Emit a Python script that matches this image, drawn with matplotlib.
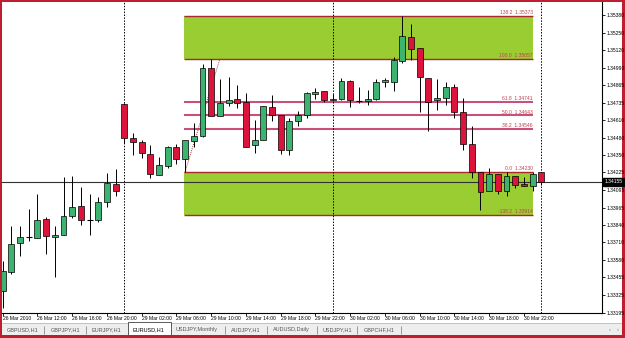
import matplotlib
matplotlib.use('Agg')
import matplotlib.pyplot as plt
from matplotlib.patches import Rectangle
from matplotlib.transforms import blended_transform_factory

# ---------------- data ----------------
opens = [1.33351, 1.33491, 1.33706, 1.33752, 1.33743, 1.33882, 1.33750, 1.33767, 1.33906, 1.33977,
         1.33877, 1.33877, 1.34004, 1.34139, 1.34727, 1.34480, 1.34447, 1.34359, 1.34205, 1.34273,
         1.34412, 1.34322, 1.34458, 1.34493, 1.34989, 1.34636, 1.34737, 1.34760, 1.34740, 1.34423,
         1.34464, 1.34703, 1.34643, 1.34387, 1.34603, 1.34643, 1.34799, 1.34821, 1.34755, 1.34762,
         1.34898, 1.34751, 1.34746, 1.34762, 1.34885, 1.34891, 1.35044, 1.35217, 1.35136, 1.34918,
         1.34752, 1.34769, 1.34850, 1.34667, 1.34432, 1.34224, 1.34090, 1.34212, 1.34090, 1.34200,
         1.34141, 1.34121, 1.34230]
highs = [1.33571, 1.33828, 1.33828, 1.33955, 1.34068, 1.33897, 1.33828, 1.34187, 1.34200, 1.34119,
         1.34065, 1.34043, 1.34222, 1.34251, 1.34737, 1.34513, 1.34464, 1.34427, 1.34334, 1.34420,
         1.34432, 1.34464, 1.34588, 1.35021, 1.35057, 1.34909, 1.34923, 1.34867, 1.34810, 1.34610,
         1.34713, 1.34790, 1.34647, 1.34623, 1.34676, 1.34813, 1.34845, 1.34823, 1.34801, 1.34920,
         1.34903, 1.34852, 1.34830, 1.34911, 1.34918, 1.35072, 1.35373, 1.35314, 1.35136, 1.34918,
         1.34911, 1.34891, 1.34874, 1.34769, 1.34568, 1.34224, 1.34256, 1.34212, 1.34224, 1.34200,
         1.34187, 1.34224, 1.34230]
lows = [1.33232, 1.33481, 1.33608, 1.33723, 1.33743, 1.33625, 1.33457, 1.33767, 1.33889, 1.33840,
        1.33767, 1.33857, 1.33970, 1.34048, 1.34439, 1.34351, 1.34329, 1.34183, 1.34205, 1.34256,
        1.34285, 1.34230, 1.34414, 1.34485, 1.34636, 1.34636, 1.34708, 1.34696, 1.34414, 1.34370,
        1.34460, 1.34603, 1.34359, 1.34354, 1.34566, 1.34623, 1.34760, 1.34744, 1.34749, 1.34757,
        1.34703, 1.34737, 1.34720, 1.34757, 1.34854, 1.34821, 1.35028, 1.35047, 1.34669, 1.34530,
        1.34683, 1.34720, 1.34623, 1.34388, 1.34185, 1.33945, 1.34086, 1.34065, 1.34053, 1.34109,
        1.34121, 1.34084, 1.34134]
closes = [1.33498, 1.33699, 1.33750, 1.33752, 1.33877, 1.33754, 1.33767, 1.33906, 1.33970, 1.33877,
          1.33877, 1.34004, 1.34146, 1.34084, 1.34476, 1.34447, 1.34366, 1.34214, 1.34278, 1.34410,
          1.34326, 1.34464, 1.34493, 1.34989, 1.34636, 1.34737, 1.34753, 1.34733, 1.34414, 1.34464,
          1.34708, 1.34642, 1.34390, 1.34603, 1.34643, 1.34806, 1.34815, 1.34752, 1.34760, 1.34894,
          1.34757, 1.34751, 1.34762, 1.34885, 1.34902, 1.35049, 1.35225, 1.35129, 1.34923, 1.34744,
          1.34771, 1.34850, 1.34667, 1.34432, 1.34229, 1.34080, 1.34212, 1.34090, 1.34200, 1.34134,
          1.34126, 1.34212, 1.34155]

time_tick_idx = [0, 4, 8, 12, 16, 20, 24, 28, 32, 36, 40, 44, 48, 52, 56, 60]
time_labels = ['26 Mar 2010', '26 Mar 12:00', '26 Mar 16:00', '26 Mar 20:00',
               '29 Mar 02:00', '29 Mar 06:00', '29 Mar 10:00', '29 Mar 14:00',
               '29 Mar 18:00', '29 Mar 22:00', '30 Mar 02:00', '30 Mar 06:00',
               '30 Mar 10:00', '30 Mar 14:00', '30 Mar 18:00', '30 Mar 22:00']
day_sep_idx = [14, 38, 62]

price_ticks = [1.35380, 1.35250, 1.35120, 1.34990, 1.34865, 1.34735, 1.34610, 1.34480,
               1.34350, 1.34225, 1.34095, 1.33965, 1.33840, 1.33710, 1.33580, 1.33455,
               1.33325, 1.33195]
bid = 1.34155

fib_names = ['138.2', '100.0', '61.8', '50.0', '38.2', '0.0', '-138.2']
fib_prices = [1.35373, 1.35057, 1.34741, 1.34643, 1.34546, 1.34230, 1.33914]
fib_start_idx, fib_end_idx = 21, 61
fib_anchor_idx = [21, 25]
fib_anchor_price = [1.34230, 1.35057]

tabs = ['GBPUSD,H1', 'GBPJPY,H1', 'EURJPY,H1', 'EURUSD,H1', 'USDJPY,Monthly',
        'AUDJPY,H1', 'AUDUSD,Daily', 'USDJPY,H1', 'GBPCHF,H1']
tab_x = [6.7, 50.7, 92, 132.7, 176, 230.7, 272.7, 322.7, 364]
active_tab = 3
title = 'EURUSD,H1  1.34230 1.34230 1.34134 1.34155'

# ---------------- style ----------------
FONT = 'Liberation Sans'
plt.rcParams['font.family'] = [FONT, 'DejaVu Sans']
UP = '#3CB371'
DOWN = '#DC143C'
ZONE = '#9ACD32'
EDGE = '#A8282D'
MID = '#C8507A'
LABEL = '#C04050'
FRAME = '#BE1E2D'

W, H = 625, 338
fig = plt.figure(figsize=(W / 100, H / 100), dpi=100)
fig.patch.set_facecolor('white')

bg = fig.add_axes([0, 0, 1, 1])
bg.set_xlim(0, W)
bg.set_ylim(H, 0)
bg.axis('off')

# main chart axes (pixel box x 2..602, y 2..313)
L, R, T, B = 2, 602, 2, 313
ax = fig.add_axes([L / W, (H - B) / H, (R - L) / W, (B - T) / H])
ax.set_facecolor('white')
step = 8.687
x0 = 2.7
ax.set_xlim((L - x0) / step, (R - x0) / step)
ax.set_ylim(1.33192, 1.35475)

# fib zones
zone_w = fib_end_idx - fib_start_idx
ax.add_patch(Rectangle((fib_start_idx - 0.08, fib_prices[1]), zone_w + 0.08,
                       fib_prices[0] - fib_prices[1], facecolor=ZONE, edgecolor='none', zorder=0.5))
ax.add_patch(Rectangle((fib_start_idx - 0.08, fib_prices[6]), zone_w + 0.08,
                       fib_prices[5] - fib_prices[6], facecolor=ZONE, edgecolor='none', zorder=0.5))
for name, p in zip(fib_names, fib_prices):
    if name in ('61.8', '50.0', '38.2'):
        ax.hlines(p, fib_start_idx - 0.08, fib_end_idx, color=MID, lw=1.5, zorder=1)
    else:
        ax.hlines(p, fib_start_idx - 0.08, fib_end_idx, color=EDGE, lw=1.0, zorder=1)
    ax.annotate(f'{name}  {p:.5f}', xy=(fib_end_idx, p), xytext=(0, 0.6),
                textcoords='offset points', ha='right', va='bottom',
                fontsize=3.6, color=LABEL, zorder=5)
ax.plot(fib_anchor_idx, fib_anchor_price, color=EDGE, lw=0.7,
        linestyle=(0, (1, 1.2)), zorder=1.2)

# day separators and bid line
for d in day_sep_idx:
    ax.axvline(d, color='black', lw=0.7, linestyle=(0, (1.5, 1.5)), zorder=2)
ax.axhline(bid, color='#303030', lw=0.8, zorder=2)

# candles
bw = 0.68
for i, (o, h, l, c) in enumerate(zip(opens, highs, lows, closes)):
    ax.vlines(i, l, h, color='black', lw=0.7, zorder=3)
    if c == o:
        ax.hlines(o, i - bw / 2, i + bw / 2, color='black', lw=0.8, zorder=4)
    else:
        col = UP if c > o else DOWN
        ax.add_patch(Rectangle((i - bw / 2, min(o, c)), bw, abs(c - o),
                               facecolor=col, edgecolor='black', lw=0.5, zorder=4))

# axes styling
for s in ('top', 'left'):
    ax.spines[s].set_visible(False)
ax.spines['right'].set_linewidth(0.8)
ax.spines['bottom'].set_linewidth(0.8)
ax.yaxis.tick_right()
ax.set_yticks(price_ticks)
ax.set_yticklabels([f'{p:.5f}' for p in price_ticks])
ax.tick_params(axis='y', length=2, width=0.6, pad=1, labelsize=3.6, colors='black')
ax.set_xticks(time_tick_idx)
ax.set_xticklabels(time_labels)
ax.tick_params(axis='x', length=2.2, width=0.6, pad=0.2, labelsize=3.6, colors='black')
for lbl in ax.get_xticklabels():
    lbl.set_ha('left')

# current price label
tr = blended_transform_factory(ax.transAxes, ax.transData)
ax.text(1.004, bid, '1.34155', transform=tr, ha='left', va='center', fontsize=3.6,
        color='white', zorder=10, clip_on=False,
        bbox=dict(boxstyle='square,pad=0.25', facecolor='black', edgecolor='black'))

# title
bg.text(4, 8, title, fontsize=3.6, ha='left', va='center', color='black')
# small chart shift marker
bg.plot([480], [2.6], marker='v', markersize=2.2, color='#333333')

# tab bar
bg.add_patch(Rectangle((2, 322.5), 620, 13, facecolor='#EEEEEE', edgecolor='none'))
bg.hlines(322.5, 2, 622, color='#B0B0B0', lw=0.5)
for k, (t, x) in enumerate(zip(tabs, tab_x)):
    if k == active_tab:
        bg.add_patch(Rectangle((127.7, 322), 43, 13, facecolor='white',
                               edgecolor='#404040', lw=0.6, zorder=3))
        bg.text(x, 329.5, t, fontsize=4.0, ha='left', va='center', color='black', zorder=4)
    else:
        bg.text(x, 329.5, t, fontsize=4.0, ha='left', va='center', color='#555555')
for sx in [44, 86, 225.3, 266.7, 316.7, 356.7, 400.7]:
    bg.vlines(sx, 325.5, 333.5, color='#777777', lw=0.5)
bg.text(610, 329.5, '‹', fontsize=4, ha='center', va='center', color='#777777')
bg.text(618, 329.5, '›', fontsize=4, ha='center', va='center', color='#777777')

# red window frame
for r in [(0, 0, 2, H), (0, 0, W, 1.7), (622, 0, 3, H), (0, 335.3, W, 2.7)]:
    bg.add_patch(Rectangle((r[0], r[1]), r[2], r[3], facecolor=FRAME, edgecolor='none', zorder=20))

fig.savefig('out.png', dpi=100, facecolor='white')
